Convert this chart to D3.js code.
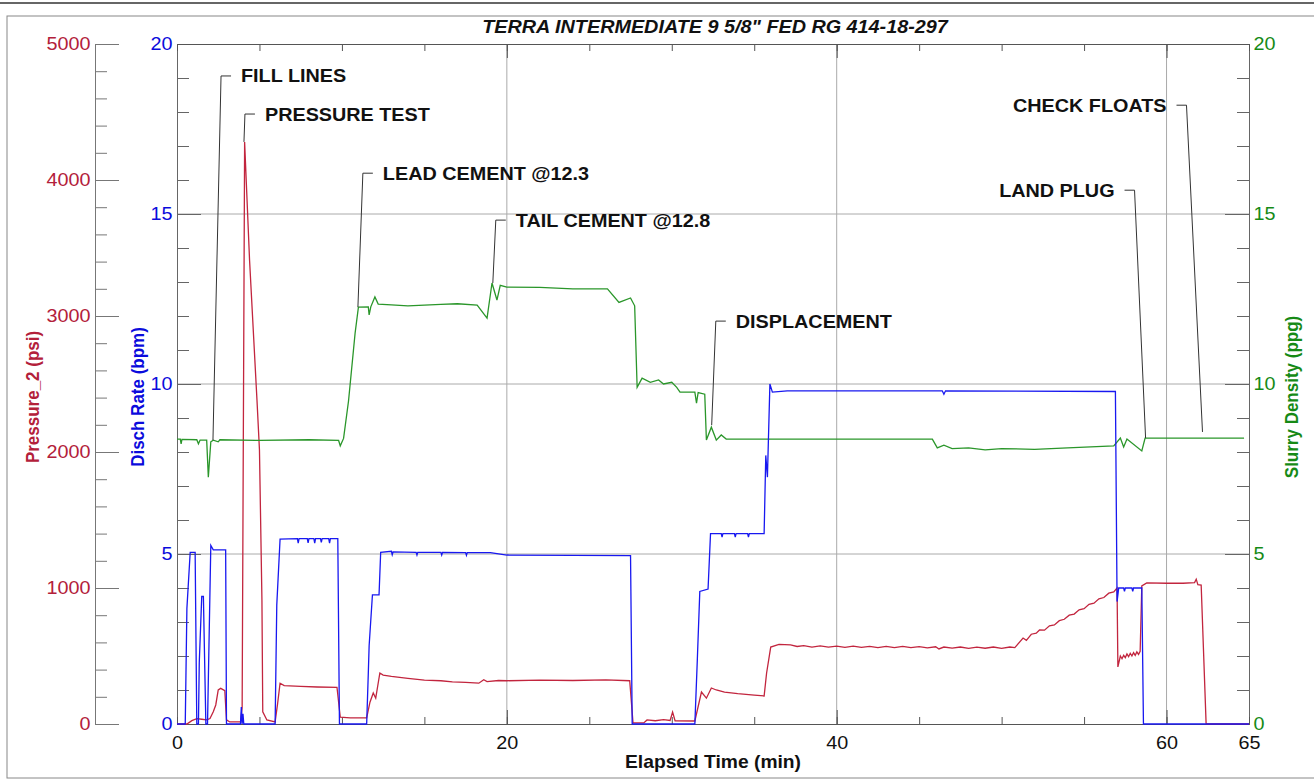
<!DOCTYPE html>
<html>
<head>
<meta charset="utf-8">
<script src="https://cdn.jsdelivr.net/npm/d3@7"></script>
<style>
  body { margin: 0; background: #fff; }
  svg { display: block; font-family: "Liberation Sans", Arial, sans-serif; }
</style>
</head>
<body>
<svg id="chart" width="1314" height="781"></svg>
<script>
// data +++++++++++++++++++++++++++++++++++++++++
const title = 'TERRA INTERMEDIATE 9 5/8" FED RG 414-18-297';

// [elapsed min, psi]
const pressure = [
  [0,0],[0.6,0],[0.9,25],[1.2,40],[1.5,35],[1.8,30],[2.0,40],[2.2,90],[2.35,140],[2.5,250],[2.65,262],
  [2.9,245],[3.0,30],[3.2,15],[3.85,15],[3.95,120],[4.1,4280],[4.4,3410],[4.85,2380],[5.0,2015],
  [5.15,910],[5.2,90],[5.45,30],[5.95,15],[6.1,150],[6.25,300],[6.5,282],[7.5,276],[8.5,272],[9.7,270],
  [9.9,50],[10.5,45],[11.5,45],[11.7,160],[11.9,228],[12.05,190],[12.3,375],[12.5,360],[13,350],
  [14,336],[15,322],[16,318],[16.7,310],[17.5,306],[18.3,300],[18.6,325],[18.8,312],[19.5,320],
  [20,318],[22,322],[24,320],[26,324],[27.45,318],[27.65,8],[28.3,8],[28.5,30],[29,24],[29.5,32],
  [29.9,26],[30.05,88],[30.2,24],[31.4,22],[31.8,235],[32.1,190],[32.4,265],[32.7,250],[33.2,235],
  [34,224],[35,213],[35.6,206],[35.75,375],[36.0,566],[36.5,585],[37.2,582],[37.6,570],[38,576],
  [38.5,566],[39,574],[39.5,565],[40,573],[40.5,564],[41,572],[41.5,563],[42,571],[42.5,562],[43,570],
  [43.5,562],[44,571],[44.5,561],[45,569],[45.5,560],[46,568],[46.2,552],[46.5,566],[47,558],[47.5,566],
  [48,556],[48.5,565],[49,557],[49.5,566],[50,556],[50.5,566],[50.8,562],[51.3,632],[51.5,615],
  [51.8,660],[52.1,668],[52.3,691],[52.6,690],[52.9,722],[53.2,728],[53.5,760],[53.8,770],[54.1,800],
  [54.4,808],[54.7,840],[55.0,848],[55.3,880],[55.6,888],[55.9,920],[56.2,930],[56.5,962],[56.8,972],
  [57.0,1000],[57.05,420],[57.2,500],[57.3,480],[57.4,505],[57.5,488],[57.6,515],[57.7,495],[57.8,520],
  [57.9,500],[58.0,525],[58.1,505],[58.2,530],[58.3,512],[58.4,535],[58.5,1015],[58.8,1037],[60,1035],
  [61,1035],[61.7,1040],[61.8,1065],[61.9,1025],[62.1,1022],[62.4,0],[65,0]
];

// [elapsed min, bpm]
const rate = [
  [0,0],[0.5,0],[0.6,3.4],[0.8,5.05],[1.1,5.05],[1.2,0],[1.3,0],[1.35,1.8],[1.5,3.75],[1.6,3.75],
  [1.75,0],[1.85,0],[2.05,5.25],[2.2,5.12],[2.95,5.12],[3.0,0],[3.85,0],[3.9,0.5],[3.95,0],[4.0,0.3],
  [4.05,0],[5.95,0],[6.05,3.5],[6.25,5.44],[7.3,5.45],[7.35,5.32],[7.4,5.45],[7.9,5.45],[7.95,5.33],
  [8.0,5.45],[8.3,5.45],[8.35,5.32],[8.4,5.45],[8.7,5.45],[8.75,5.34],[8.8,5.45],[9.2,5.45],[9.25,5.32],
  [9.3,5.45],[9.75,5.45],[9.85,0],[11.5,0],[11.6,1.5],[11.65,2.3],[11.85,3.8],[12.25,3.8],[12.35,5.05],
  [13,5.08],[13.05,4.98],[13.1,5.06],[14.5,5.05],[14.55,4.97],[14.6,5.05],[16,5.05],[16.05,4.97],
  [16.1,5.05],[17.5,5.04],[17.55,4.96],[17.6,5.04],[19,5.04],[20,4.97],[24,4.96],[27.5,4.95],[27.6,0],
  [31.4,0],[31.55,1.9],[31.7,3.9],[32.2,3.97],[32.35,5.6],[33,5.6],[33.05,5.5],[33.1,5.6],[33.8,5.6],
  [33.85,5.5],[33.9,5.6],[34.6,5.6],[34.65,5.5],[34.7,5.6],[35.6,5.6],[35.7,7.9],[35.8,7.26],
  [35.95,10.0],[36.1,9.76],[37,9.8],[46.4,9.8],[46.5,9.7],[46.6,9.8],[56.9,9.78],[57.0,3.6],[57.1,4.0],
  [57.4,4.0],[57.45,3.9],[57.5,4.0],[57.9,4.0],[57.95,3.9],[58.0,4.0],[58.5,4.0],[58.6,0],[65,0]
];

// [elapsed min, ppg]
const density = [
  [0,8.38],[0.2,8.38],[0.25,8.24],[0.3,8.37],[1.2,8.36],[1.3,8.24],[1.4,8.35],[1.8,8.35],[1.9,7.26],
  [2.05,8.3],[2.2,8.35],[2.5,8.3],[2.6,8.36],[5,8.34],[8,8.36],[9.8,8.34],[9.9,8.18],[10.1,8.4],
  [10.4,9.5],[10.7,11.0],[10.8,11.5],[11.0,12.26],[11.6,12.27],[11.65,12.03],[11.75,12.27],[12.0,12.56],
  [12.2,12.35],[13,12.33],[14,12.3],[15,12.32],[16,12.34],[17,12.36],[18.2,12.32],[18.8,11.94],
  [19.1,12.97],[19.4,12.47],[19.6,12.9],[20,12.85],[22,12.84],[24,12.8],[26.1,12.8],[26.8,12.4],
  [27.5,12.53],[27.75,12.3],[27.9,9.9],[28.2,10.17],[28.7,10.05],[29.2,10.12],[29.5,10.0],[30.0,10.05],
  [30.3,9.9],[30.5,9.76],[31.4,9.76],[31.5,9.44],[31.6,9.75],[32.0,9.7],[32.1,8.35],[32.4,8.73],
  [32.7,8.35],[33.0,8.5],[33.3,8.38],[40,8.38],[45.8,8.38],[46.1,8.12],[46.5,8.2],[47,8.1],[48,8.12],
  [49,8.06],[50,8.1],[52,8.08],[54,8.12],[56.8,8.18],[57.2,8.41],[57.4,8.15],[57.6,8.38],[58.5,8.03],
  [58.7,8.41],[64.7,8.41]
];

const timeLabels = [0, 20, 40, 60, 65];
const timeTicks = [0, 5, 10, 15, 20, 25, 30, 35, 40, 45, 50, 55, 60, 65];
const timeGrid = [20, 40, 60];
const pressureTicks = [0, 1000, 2000, 3000, 4000, 5000];
const rateTicks = [0, 5, 10, 15, 20];
const densityTicks = [0, 5, 10, 15, 20];
const rateGrid = [5, 10, 15];

// event labels: where the leader touches the curve (t, v) and its elbow (et, ev), in min / ppg-axis units
const events = [
  { text: "FILL LINES",        t: 2.18,  v: 8.35,  et: 2.67,  ev: 19.06, side: 1 },
  { text: "PRESSURE TEST",     t: 4.06,  v: 17.12, et: 4.12,  ev: 17.94, side: 1 },
  { text: "LEAD CEMENT @12.3", t: 10.97, v: 12.26, et: 11.27, ev: 16.2,  side: 1 },
  { text: "TAIL CEMENT @12.8", t: 19.15, v: 12.97, et: 19.33, ev: 14.82, side: 1 },
  { text: "DISPLACEMENT",      t: 32.42, v: 8.79,  et: 32.67, ev: 11.85, side: 1 },
  { text: "LAND PLUG",         t: 58.73, v: 8.41,  et: 58.06, ev: 15.7,  side: -1 },
  { text: "CHECK FLOATS",      t: 62.18, v: 8.59,  et: 61.21, ev: 18.2,  side: -1 }
];
// data -----------------------------------------

const RED = "#b3203a", BLUE = "#0b0bdc", GREEN = "#168a16";
const STRETCH = 1.1; // the reference text is a bit wide

const plotLeft = 177, plotRight = 1249, plotTop = 44, plotBottom = 724, pAxisX = 95;

const svg = d3.select("#chart");

// frame
svg.append("line").attr("x1", 0).attr("x2", 1314).attr("y1", 3).attr("y2", 3)
  .attr("stroke", "#333").attr("stroke-width", 1.5);
svg.append("rect").attr("x", 7).attr("y", 16).attr("width", 1320).attr("height", 762)
  .attr("fill", "none").attr("stroke", "#888");

// scales
const x = d3.scaleLinear().domain([0, 65]).range([plotLeft, plotRight]);
const yRate = d3.scaleLinear().domain([0, 20]).range([plotBottom, plotTop]);
const yPress = d3.scaleLinear().domain([0, 5000]).range([plotBottom, plotTop]);
const yDens = d3.scaleLinear().domain([0, 20]).range([plotBottom, plotTop]);

// grid
svg.append("g").selectAll("line").data(rateGrid).join("line")
  .attr("x1", plotLeft).attr("x2", plotRight)
  .attr("y1", d => yRate(d)).attr("y2", d => yRate(d))
  .attr("stroke", "#aaa");
svg.append("g").selectAll("line").data(timeGrid).join("line")
  .attr("x1", d => x(d)).attr("x2", d => x(d))
  .attr("y1", plotTop).attr("y2", plotBottom)
  .attr("stroke", "#aaa");

// helper to style an axis group
function styleAxis(g, color, textColor) {
  g.attr("font-family", null).attr("font-size", 18).attr("color", color);
  g.selectAll("text").attr("fill", textColor).attr("transform", `scale(${STRETCH},1)`);
}

const minorOf = (lo, hi, step, majors) => d3.range(lo, hi + step / 2, step).filter(v => !majors.includes(v));
const plain = d3.format("d");

// pressure axis (far left)
const pG = svg.append("g").attr("transform", `translate(${pAxisX},0)`);
pG.append("g").call(d3.axisLeft(yPress).tickValues(minorOf(0, 5000, 200, pressureTicks))
  .tickSize(-12).tickSizeOuter(0).tickFormat(""));
pG.append("g").call(d3.axisLeft(yPress).tickValues(pressureTicks).tickFormat(plain)
  .tickSize(-24).tickSizeOuter(0).tickPadding(4));
pG.selectAll("g").each(function () { styleAxis(d3.select(this), "#777", RED); });

// rate axis (plot left edge)
const rG = svg.append("g").attr("transform", `translate(${plotLeft},0)`);
rG.append("g").call(d3.axisLeft(yRate).tickValues(minorOf(0, 20, 1, rateTicks))
  .tickSize(-12).tickSizeOuter(0).tickFormat(""));
rG.append("g").call(d3.axisLeft(yRate).tickValues(rateTicks).tickFormat(plain)
  .tickSize(-24).tickSizeOuter(0).tickPadding(4));
rG.selectAll("g").each(function () { styleAxis(d3.select(this), "#666", BLUE); });

// density axis (plot right edge)
const dG = svg.append("g").attr("transform", `translate(${plotRight},0)`);
dG.append("g").call(d3.axisRight(yDens).tickValues(minorOf(0, 20, 1, densityTicks))
  .tickSize(-12).tickSizeOuter(0).tickFormat(""));
dG.append("g").call(d3.axisRight(yDens).tickValues(densityTicks).tickFormat(plain)
  .tickSize(-24).tickSizeOuter(0).tickPadding(4));
dG.selectAll("g").each(function () { styleAxis(d3.select(this), "#666", GREEN); });

// time axes
const bG = svg.append("g").attr("transform", `translate(0,${plotBottom})`);
bG.append("g").call(d3.axisBottom(x).tickValues(timeTicks).tickSize(-7).tickSizeOuter(0).tickFormat(""));
bG.append("g").call(d3.axisBottom(x).tickValues(timeGrid).tickSize(-14).tickSizeOuter(0).tickFormat(""));
bG.append("g").call(d3.axisBottom(x).tickValues(timeLabels).tickFormat(plain)
  .tickSize(0).tickSizeOuter(0).tickPadding(12));
bG.selectAll("g").each(function () { styleAxis(d3.select(this), "#555", "#111"); });

const tG = svg.append("g").attr("transform", `translate(0,${plotTop})`);
tG.append("g").call(d3.axisTop(x).tickValues(timeTicks).tickSize(-7).tickSizeOuter(0).tickFormat(""));
tG.append("g").call(d3.axisTop(x).tickValues(timeGrid).tickSize(-14).tickSizeOuter(0).tickFormat(""));
tG.selectAll("g").each(function () { styleAxis(d3.select(this), "#555", "#111"); });

// curves
const lineOf = yScale => d3.line().x(d => x(d[0])).y(d => yScale(d[1]));

svg.append("path").datum(pressure).attr("d", lineOf(yPress))
  .attr("fill", "none").attr("stroke", "#c2253e").attr("stroke-width", 1.3);
svg.append("path").datum(density).attr("d", lineOf(yDens))
  .attr("fill", "none").attr("stroke", "#2a962a").attr("stroke-width", 1.3);
svg.append("path").datum(rate).attr("d", lineOf(yRate))
  .attr("fill", "none").attr("stroke", "#1818f0").attr("stroke-width", 1.3);

// event labels with leaders
const evG = svg.append("g");
events.forEach(e => {
  const ax = x(e.t), ay = yDens(e.v);
  const ex = x(e.et), ey = yDens(e.ev);
  evG.append("path")
    .attr("d", `M${ax},${ay}L${ex},${ey}H${ex + e.side * 10}`)
    .attr("fill", "none").attr("stroke", "#333").attr("stroke-width", 1);
  evG.append("text")
    .attr("transform", `translate(${ex + e.side * 20},${ey + 6.5}) scale(${STRETCH},1)`)
    .attr("text-anchor", e.side > 0 ? "start" : "end")
    .attr("font-size", 18).attr("font-weight", "bold").attr("fill", "#111")
    .text(e.text);
});

// titles
function label(str, px, py, rot, color, size, extra) {
  const t = svg.append("text")
    .attr("transform", `translate(${px},${py}) scale(${STRETCH},1) rotate(${rot})`)
    .attr("text-anchor", "middle").attr("dy", "0.35em")
    .attr("font-size", size).attr("font-weight", "bold").attr("fill", color)
    .text(str);
  if (extra) extra(t);
  return t;
}

label(title, 715, 27, 0, "#111", 18, t => t.attr("font-style", "italic"));
label("Elapsed Time (min)", 713, 762, 0, "#111", 17.5);
label("Pressure_2 (psi)", 32, 397, -90, RED, 17);
label("Disch Rate (bpm)", 137, 397, -90, BLUE, 17);
label("Slurry Density (ppg)", 1291, 397, -90, GREEN, 17);
</script>
</body>
</html>
